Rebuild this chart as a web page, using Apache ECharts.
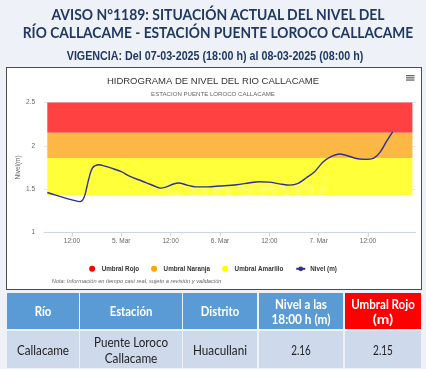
<!DOCTYPE html>
<html><head><meta charset="utf-8">
<script src="https://cdn.jsdelivr.net/npm/echarts@6/dist/echarts.min.js"></script>
<style>
html,body{margin:0;padding:0;}
body{width:426px;height:369px;background:#eef2f8;position:relative;overflow:hidden;}
#box{position:absolute;left:6px;top:66.5px;width:414px;height:221px;border:1.3px solid #4d4d4d;background:#fff;}
#chart{position:absolute;left:0;top:0;width:426px;height:369px;}
.t{position:absolute;white-space:nowrap;line-height:1;transform-origin:50% 50%;}
.cell{position:absolute;}
</style></head>
<body>
<div id="box"></div>
<div id="chart"></div>
<script>
// ---- data ----
const hours = [6,8,10,12,14,15,16,17,18.5,20,22,24,26,28,30,32,33.5,35,36.5,38,40,42,45,48,52,55,57.5,60,62.5,65,67,69,71,73,75,77,79,81.5,84,85.5,87,88.5,90]; // hours since 04-03-2025 00:00
const levels = [1.46,1.43,1.40,1.375,1.355,1.41,1.60,1.745,1.78,1.765,1.735,1.70,1.65,1.61,1.575,1.535,1.51,1.525,1.555,1.57,1.545,1.525,1.525,1.535,1.55,1.57,1.585,1.58,1.56,1.545,1.565,1.63,1.70,1.81,1.875,1.905,1.885,1.85,1.845,1.86,1.93,2.05,2.16];
const tickHours = [12,24,36,48,60,72,84];
const tickLabels = ['12:00','5. Mar','12:00','6. Mar','12:00','7. Mar','12:00'];
const bandNames = ['Umbral Rojo','Umbral Naranja','Umbral Amarillo'];
const bandFrom = [2.15,1.86,1.43];
const bandTo = [2.5,2.15,1.86];
const bandColors = ['#ff4141','#fdb744','#ffff3a'];
const dotColors = ['#ff0000','#ffa500','#ffff00'];
const lineName = 'Nivel (m)';
const tableHead = ['Río','Estación','Distrito','Nivel a las\n18:00 h (m)','Umbral Rojo\n(m)'];
const tableRow = ['Callacame','Puente Loroco\nCallacame','Huacullani','2.16','2.15'];

// ---- HTML texts ----
function addText(txt, cx, cy, w, font, color){
  const s=document.createElement('span');
  s.className='t'; s.textContent=txt; s.style.font=font; s.style.color=color;
  s.style.left=cx+'px'; s.style.top=cy+'px';
  s.style.zIndex=5;
  document.body.appendChild(s);
  const mw=s.offsetWidth;
  s.style.transform='translate(-50%,-50%) scaleX('+(w/mw)+')';
}
addText('AVISO N°1189: SITUACIÓN ACTUAL DEL NIVEL DEL',218.3,13.6,333.5,'bold 14.5px Lato','#1f3864');
addText('RÍO CALLACAME - ESTACIÓN PUENTE LOROCO CALLACAME',218,32.3,390.5,'bold 14.5px Lato','#1f3864');
addText('VIGENCIA: Del 07-03-2025 (18:00 h) al 08-03-2025 (08:00 h)',215,55.8,296.5,'bold 12.5px "Liberation Sans"','#1f3864');

// table
const colB=[6.6,79.5,182.5,258.2,344.2,420.8];
const gap=1.7;
const rowsY=[[293.3,329.3],[331.2,368.5]];
const headW=[[16.7],[42.7],[38.3],[52.3,59.3],[64,20.7]];
const rowW=[[52],[74.3,52.7],[54],[19.7],[20]];
for(let r=0;r<2;r++){
  for(let c=0;c<5;c++){
    const d=document.createElement('div'); d.className='cell';
    const x0=colB[c]+(c>0?gap/2:0), x1=colB[c+1]-(c<4?gap/2:0);
    d.style.left=x0+'px'; d.style.top=rowsY[r][0]+'px';
    d.style.width=(x1-x0)+'px'; d.style.height=(rowsY[r][1]-rowsY[r][0])+'px';
    d.style.background = r===0 ? (c===4?'#ff0000':'#5b9bd5') : '#cfd9ec';
    d.style.zIndex=4;
    document.body.appendChild(d);
    const cx=(x0+x1)/2, cy=(rowsY[r][0]+rowsY[r][1])/2;
    const lines=(r===0?tableHead[c]:tableRow[c]).split('\n');
    const ws=r===0?headW[c]:rowW[c];
    const font=r===0?'bold 13px Lato':'13px Lato';
    const col=r===0?'#ffffff':'#222222';
    if(lines.length===1) addText(lines[0],cx,cy+(r===0?0:0.5),ws[0],font,col);
    else { addText(lines[0],cx,cy-7.5,ws[0],font,col); addText(lines[1],cx,cy+7.8,ws[1],font,col); }
  }
}

// ---- chart ----
const chart=echarts.init(document.getElementById('chart'),null,{renderer:'canvas'});
const series=[];
for(let i=0;i<3;i++){
  series.push({
    name:bandNames[i], type:'line', data:[[hours[0],null]], symbol:'none', z:1, silent:true,
    itemStyle:{color:dotColors[i]}, lineStyle:{opacity:0},
    markArea:{silent:true, label:{show:false}, itemStyle:{color:bandColors[i]},
      data:[[{xAxis:hours[0],yAxis:bandFrom[i]},{xAxis:94.8,yAxis:bandTo[i]}]]}
  });
}
series.push({
  name:lineName, type:'line', z:5, symbol:'none', smooth:0.3,
  data:hours.map((h,i)=>[h,levels[i]]),
  lineStyle:{color:'#2e2e96',width:1.4}, itemStyle:{color:'#2e2e96'}
});
const graphic=[
  {type:'rect',shape:{x:406,y:75,width:8.5,height:1.3},style:{fill:'#666'},z:10},
  {type:'rect',shape:{x:406,y:77.2,width:8.5,height:1.3},style:{fill:'#666'},z:10},
  {type:'rect',shape:{x:406,y:79.4,width:8.5,height:1.3},style:{fill:'#666'},z:10},
  {type:'text',x:160,y:176,style:{text:'Senamhi',font:'italic bold 40px "Liberation Sans"',fill:'rgba(255,255,255,0.16)',textBaseline:'bottom'},z:3},
  {type:'text',x:213,y:185,style:{text:'SERVICIO NACIONAL DE METEOROLOGÍA',font:'5px "Liberation Sans"',fill:'rgba(255,255,255,0.2)',textVerticalAlign:'middle'},z:3},
  {type:'text',x:213,y:190.5,style:{text:'E HIDROLOGÍA DEL PERÚ',font:'5px "Liberation Sans"',fill:'rgba(255,255,255,0.2)',textVerticalAlign:'middle'},z:3},
  {type:'text',x:51.7,y:281.8,style:{text:'Nota: Información en tiempo casi real, sujeto a revisión y validación',font:'italic 5.7px "Liberation Sans"',fill:'#666',textVerticalAlign:'middle'},z:10}
];
chart.setOption({
  animation:false,
  backgroundColor:'transparent',
  textStyle:{fontFamily:'Liberation Sans'},
  title:{text:'HIDROGRAMA DE NIVEL DEL RIO CALLACAME',subtext:'ESTACION PUENTE LOROCO CALLACAME',
    left:'center',top:71.5,itemGap:4.5,
    textStyle:{fontSize:9.5,fontWeight:'normal',color:'#333'},
    subtextStyle:{fontSize:6.1,color:'#666'}},
  legend:{left:'center',top:260.8,itemWidth:9,itemHeight:6,itemGap:12,
    textStyle:{fontSize:6.3,fontWeight:'bold',color:'#333'},
    data:[{name:bandNames[0],icon:'circle'},{name:bandNames[1],icon:'circle'},{name:bandNames[2],icon:'circle'},{name:lineName}]},
  grid:{left:44,right:10.3,top:102.5,bottom:136.7},
  xAxis:{type:'value',min:5.2,max:95.6,
    axisLine:{lineStyle:{color:'#ccd6eb',width:1}},
    axisTick:{show:true,customValues:tickHours,length:4,lineStyle:{color:'#ccd6eb'}},
    axisLabel:{customValues:tickHours,formatter:v=>tickLabels[tickHours.indexOf(v)],fontSize:6.5,color:'#666',margin:5},
    splitLine:{show:false}},
  yAxis:{type:'value',min:1,max:2.5,interval:0.5,
    name:'Nivel(m)',nameLocation:'middle',nameGap:22.5,nameMoveOverlap:false,nameTextStyle:{fontSize:6.5,color:'#666'},
    axisLine:{show:false},axisTick:{show:false},
    axisLabel:{fontSize:6.5,color:'#666',margin:9},
    splitLine:{lineStyle:{color:'#e6e6e6'}}},
  graphic:graphic,
  series:series
});
</script>
</body></html>
